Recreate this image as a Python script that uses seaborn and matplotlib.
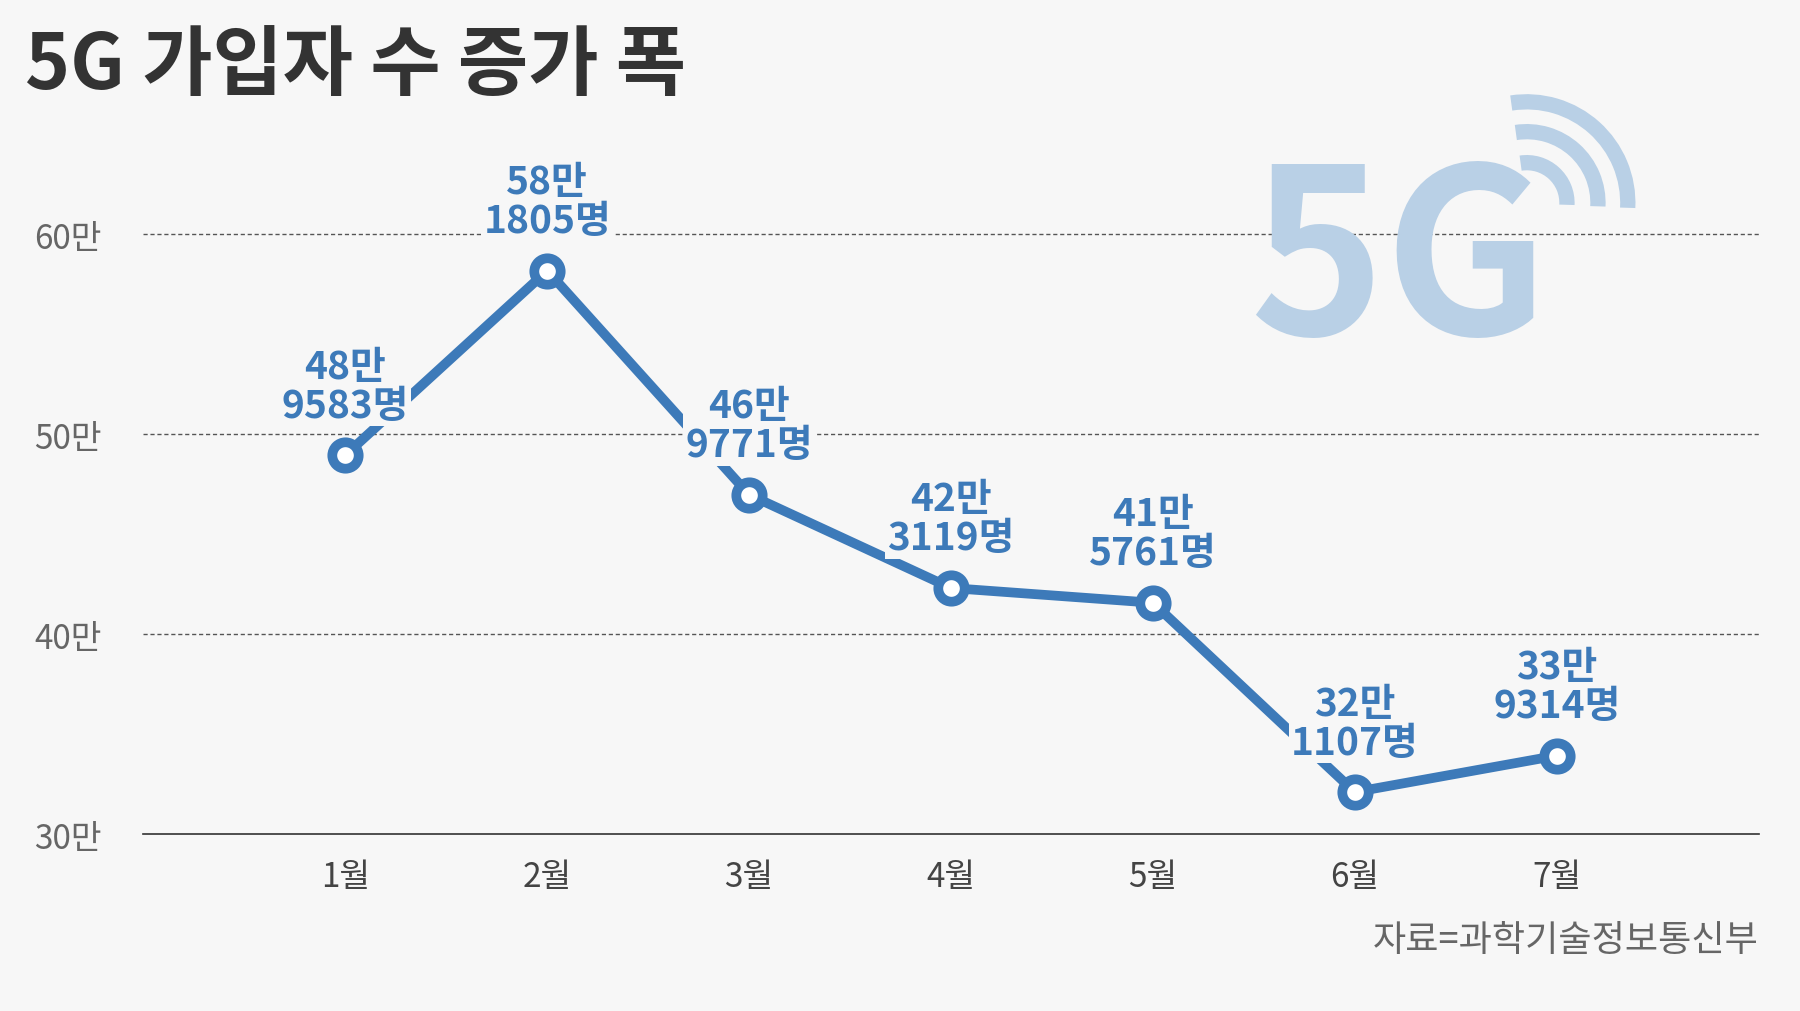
import matplotlib
matplotlib.use("Agg")
import matplotlib.pyplot as plt
from matplotlib.patches import Arc
from matplotlib import font_manager
import seaborn as sns
import pandas as pd

months = ["1월", "2월", "3월", "4월", "5월", "6월", "7월"]
values = [48.9583, 58.1805, 46.9771, 42.3119, 41.5761, 32.1107, 33.9314]
labels_top = ["48만", "58만", "46만", "42만", "41만", "32만", "33만"]
labels_bot = ["9583명", "1805명", "9771명", "3119명", "5761명", "1107명", "9314명"]
yticks = [30, 40, 50, 60]
ytick_labels = ["30만", "40만", "50만", "60만"]

BG = "#f7f7f7"
BLUE = "#3d7ab9"
names = {f.name for f in font_manager.fontManager.ttflist}
FONT = next((n for n in ["Noto Sans CJK KR", "Noto Sans CJK JP", "Noto Sans CJK SC"] if n in names), "DejaVu Sans")
sns.set_theme(style="white", rc={"font.family": FONT})
plt.rcParams["font.family"] = FONT

fig = plt.figure(figsize=(18, 10.12), dpi=100, facecolor=BG)
ax = fig.add_axes([0.0797, 0.1746, 0.8973, 0.7234], facecolor=BG)

# 5G logo (behind)
LOGO = "#b9d0e6"
fig.text(0.777, 0.735, "5G", fontsize=165, fontweight="bold", color=LOGO,
         ha="center", va="center", zorder=0)
W, H = 1800, 1012
sx = 1800 / 1568
cx, cy = 1330 * sx, (882 - 178) * sx
for r in [35, 62, 88]:
    arc = Arc((cx / W, cy / H), 2 * r * sx / W, 2 * r * sx / H, theta1=-5, theta2=95,
              transform=fig.transFigure, color=LOGO, linewidth=11)
    fig.add_artist(arc)

df = pd.DataFrame({"x": range(1, 8), "y": values})
sns.lineplot(data=df, x="x", y="y", ax=ax, color=BLUE, linewidth=7, zorder=3,
             marker="o", markersize=19, markerfacecolor="white",
             markeredgecolor=BLUE, markeredgewidth=7)

ax.set_xlim(0, 8)
ax.set_ylim(30, 66.6)
ax.set_xticks(range(1, 8))
ax.set_xticklabels(months, fontsize=24, color="#444")
ax.set_yticks(yticks)
ax.set_yticklabels(ytick_labels, fontsize=24, color="#666")
ax.tick_params(axis="x", direction="in", length=33, width=1.2, color="#333", pad=18)
ax.tick_params(axis="y", length=0, pad=30)
for s in ["top", "right", "left"]:
    ax.spines[s].set_visible(False)
ax.spines["bottom"].set_color("#333")
ax.spines["bottom"].set_linewidth(1.2)
for yv in [40, 50, 60]:
    ax.axhline(yv, color="#555", linestyle=(0, (3, 2)), linewidth=1, zorder=1)
ax.set_xlabel("")
ax.set_ylabel("")
ax.grid(False)

for i, (v, a, b) in enumerate(zip(values, labels_top, labels_bot)):
    ax.annotate(a + "\n" + b, xy=(i + 1, v), xytext=(0, 22), textcoords="offset points",
                ha="center", va="bottom", fontsize=28, fontweight="bold", color=BLUE,
                linespacing=1.0, zorder=5,
                bbox=dict(boxstyle="square,pad=0.05", facecolor=BG, edgecolor="none"))

fig.text(0.014, 0.935, "5G 가입자 수 증가 폭", fontsize=55, fontweight="bold",
         color="#333", ha="left", va="center")
fig.text(0.977, 0.07, "자료=과학기술정보통신부", fontsize=26, color="#666",
         ha="right", va="center")

fig.savefig("out.png", dpi=100, facecolor=BG)
